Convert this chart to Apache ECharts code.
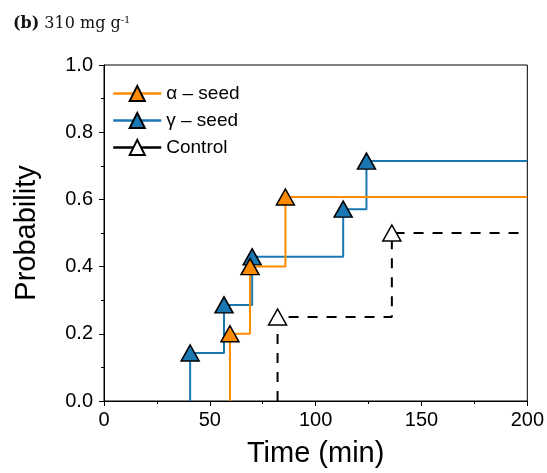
<!DOCTYPE html>
<html><head><meta charset="utf-8">
<script src="https://cdn.jsdelivr.net/npm/echarts@6/dist/echarts.min.js"></script>
<style>html,body{margin:0;padding:0;background:#fff}#c{width:547px;height:473px}</style>
</head><body><div id="c"></div>
<script>
// Data
const seriesNames = ['\u03b1 \u2013 seed', '\u03b3 \u2013 seed', 'Control'];
const alphaTimes = [59.5, 69.0, 85.7];
const alphaProb  = [0.2, 0.4, 0.607];
const gammaTimes = [40.7, 56.7, 70.0, 113.0, 124.0];
const gammaProb  = [0.143, 0.286, 0.429, 0.571, 0.714];
const controlTimes = [82.0, 136.0];
const controlProb  = [0.25, 0.5];
const xTicks = [0, 50, 100, 150, 200];
const yTicks = [0.0, 0.2, 0.4, 0.6, 0.8, 1.0];
const xEnd = 200;

function stepData(times, probs) {
  const d = [{value: [times[0], 0], symbol: 'none'}];
  for (let i = 0; i < times.length; i++) d.push({value: [times[i], probs[i]]});
  d.push({value: [xEnd, probs[probs.length - 1]], symbol: 'none'});
  return d;
}

const orange = '#ff8c00', blue = '#1a77b2';
const chart = echarts.init(document.getElementById('c'), null, {renderer: 'canvas'});
const font = 'Liberation Sans, Arial, sans-serif';
const serif = 'DejaVu Serif, Liberation Serif, serif';
chart.setOption({
  animation: false,
  title: {
    text: '{b|(b)} {r|310 mg g}{s|-1}',
    left: 8, top: 10,
    textStyle: {
      fontWeight: 'normal',
      rich: {
        b: {fontFamily: serif, fontWeight: 'bold', fontSize: 16, color: '#111'},
        r: {fontFamily: serif, fontWeight: 'normal', fontSize: 16, color: '#111'},
        s: {fontFamily: serif, fontWeight: 'normal', fontSize: 10, color: '#111', verticalAlign: 'top', padding: [0,0,8,0]}
      }
    }
  },
  grid: {left: 104, right: 17, top: 65, bottom: 66, show: true, borderColor: '#000', borderWidth: 1},
  legend: {
    left: 107, top: 79, orient: 'vertical', itemWidth: 48, itemHeight: 19, itemGap: 8,
    lineStyle: {width: 2.5},
    textStyle: {fontFamily: font, fontSize: 19, color: '#000'},
    data: [
      {name: seriesNames[0]},
      {name: seriesNames[1]},
      {name: seriesNames[2], lineStyle: {type: 'solid'}}
    ]
  },
  xAxis: {
    type: 'value', min: 0, max: 200, interval: 50,
    name: 'Time (min)', nameLocation: 'middle', nameGap: 38,
    nameTextStyle: {fontFamily: font, fontSize: 29, color: '#000'},
    axisLine: {show: true, lineStyle: {color: '#000', width: 1}},
    axisTick: {show: true, length: 5, lineStyle: {color: '#000'}},
    minorTick: {show: true, splitNumber: 2, length: 3, lineStyle: {color: '#000'}},
    splitLine: {show: false},
    axisLabel: {fontFamily: font, fontSize: 20, color: '#000', margin: 9,
      formatter: v => xTicks.includes(v) ? String(v) : ''}
  },
  yAxis: {
    type: 'value', min: 0, max: 1, interval: 0.2,
    name: 'Probability', nameLocation: 'middle', nameGap: 63, nameRotate: 90,
    nameTextStyle: {fontFamily: font, fontSize: 29, color: '#000'},
    axisLine: {show: true, lineStyle: {color: '#000', width: 1}},
    axisTick: {show: true, length: 5, lineStyle: {color: '#000'}},
    minorTick: {show: true, splitNumber: 2, length: 3, lineStyle: {color: '#000'}},
    splitLine: {show: false},
    axisLabel: {fontFamily: font, fontSize: 20, color: '#000', margin: 11,
      formatter: v => yTicks.some(t => Math.abs(t - v) < 1e-9) ? v.toFixed(1) : ''}
  },
  series: [
    {
      name: seriesNames[0], type: 'line', step: 'end', z: 4,
      data: stepData(alphaTimes, alphaProb),
      symbol: 'triangle', symbolSize: [18, 16], showAllSymbol: true,
      lineStyle: {color: orange, width: 2},
      itemStyle: {color: orange, borderColor: '#000', borderWidth: 1.5}
    },
    {
      name: seriesNames[1], type: 'line', step: 'end', z: 3,
      data: stepData(gammaTimes, gammaProb),
      symbol: 'triangle', symbolSize: [18, 16], showAllSymbol: true,
      lineStyle: {color: blue, width: 2},
      itemStyle: {color: blue, borderColor: '#000', borderWidth: 1.5}
    },
    {
      name: seriesNames[2], type: 'line', step: 'end', z: 3,
      data: stepData(controlTimes, controlProb),
      symbol: 'triangle', symbolSize: [18, 16], showAllSymbol: true,
      lineStyle: {color: '#000', width: 2, type: [10, 9]},
      itemStyle: {color: '#fff', borderColor: '#000', borderWidth: 1.5}
    }
  ]
});
</script></body></html>
